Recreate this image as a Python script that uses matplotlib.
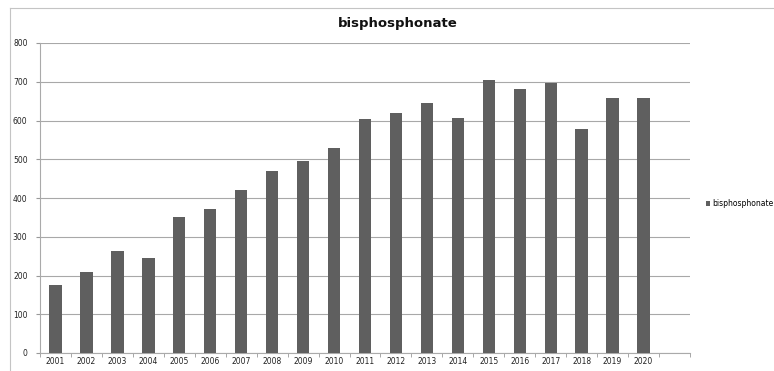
import matplotlib
matplotlib.use("Agg")
import matplotlib.pyplot as plt
from matplotlib.lines import Line2D
import numpy as np

years = [str(y) for y in range(2001, 2021)]
counts = [176, 209, 263, 244, 350, 371, 421, 469, 496, 529,
          605, 619, 645, 606, 705, 682, 698, 577, 658, 658]
yticks = [0, 100, 200, 300, 400, 500, 600, 700, 800]
series_name = "bisphosphonate"

fig = plt.figure(figsize=(7.74, 3.71), dpi=100)
W, H = 774, 371
ax = fig.add_axes([40 / W, 1 - 353 / H, 650 / W, 310 / H])

x = np.arange(len(years))
ax.bar(x, counts, width=0.4, color="#5f5f5f", label=series_name, zorder=3)

ax.set_ylim(0, 800)
ax.set_yticks(yticks)
ax.set_yticklabels([str(t) for t in yticks], fontsize=5.5, color="#222222")
ax.set_xlim(-0.5, len(years) + 0.5)
ax.set_xticks(x)
ax.set_xticklabels(years, fontsize=5.5, color="#222222")
ax.set_xticks(np.arange(-0.5, len(years) + 1, 1), minor=True)
ax.tick_params(axis="x", which="major", length=0, pad=3)
ax.tick_params(axis="x", which="minor", length=3, color="#999999", direction="out")
ax.tick_params(axis="y", length=3, color="#999999", pad=6)

ax.grid(axis="y", color="#a8a8a8", linewidth=0.8, zorder=0)
for side in ["top", "right"]:
    ax.spines[side].set_visible(False)
ax.spines["left"].set_color("#aaaaaa")
ax.spines["bottom"].set_color("#aaaaaa")

fig.text(398 / W, 1 - 24 / H, series_name, ha="center", va="center",
         fontsize=9.5, fontweight="bold", color="#111111")

leg = fig.legend(loc="center left", bbox_to_anchor=(702 / W, 1 - 204 / H),
                 frameon=False, fontsize=5.5, handlelength=0.6, handleheight=0.6,
                 handletextpad=0.2, borderpad=0)

# chart frame: top and left edges
fig.add_artist(Line2D([10 / W, 1], [1 - 8 / H, 1 - 8 / H], transform=fig.transFigure,
                      color="#c4c4c4", linewidth=0.8))
fig.add_artist(Line2D([10 / W, 10 / W], [0, 1 - 8 / H], transform=fig.transFigure,
                      color="#c4c4c4", linewidth=0.8))

fig.savefig("out.png", dpi=100)
